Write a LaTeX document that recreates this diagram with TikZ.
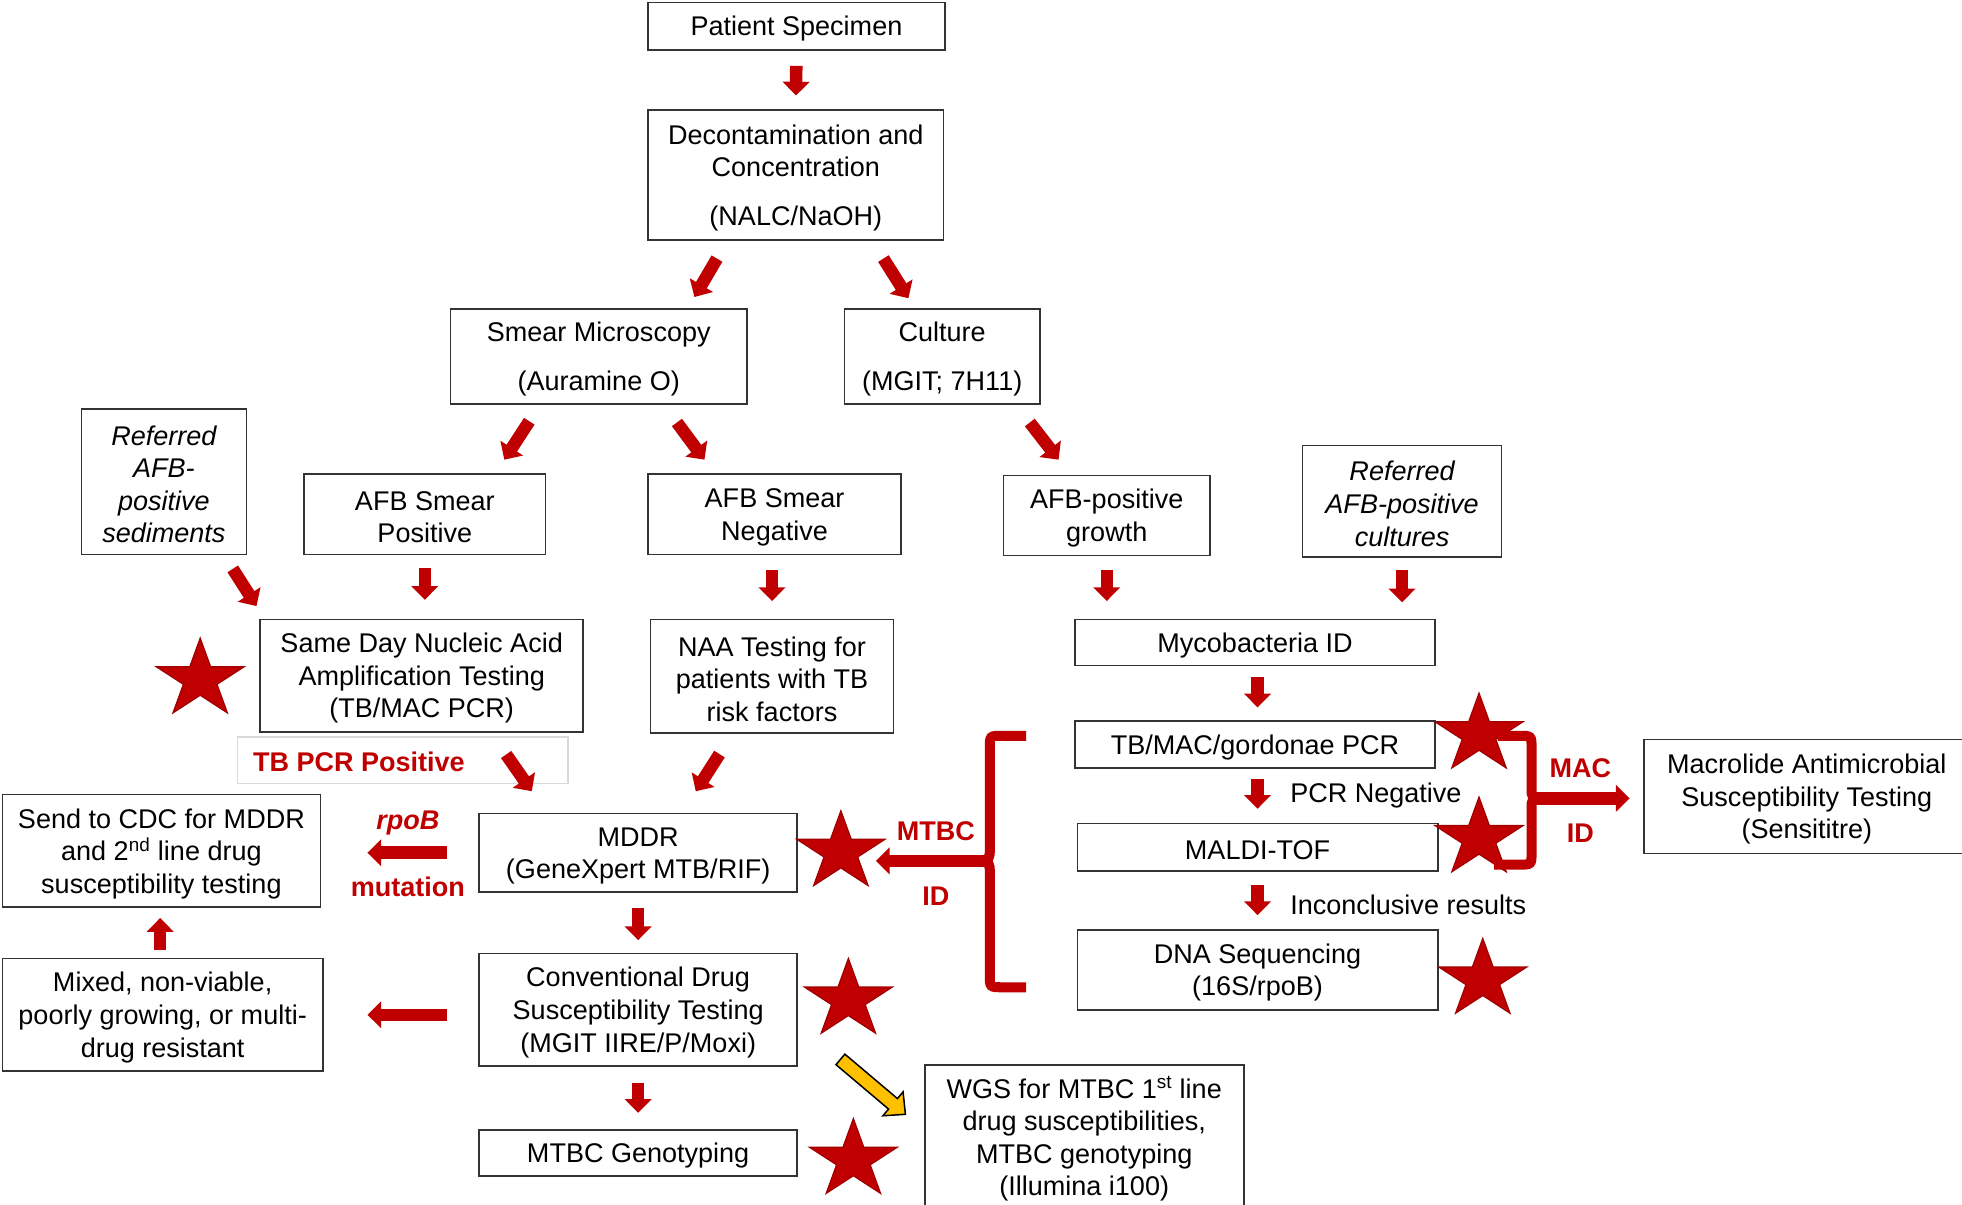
\documentclass[tikz,border=0pt]{standalone}
\usepackage{fontspec}
\setmainfont{Liberation Sans}
\usetikzlibrary{arrows.meta,calc}
\definecolor{ared}{HTML}{C00000}
\definecolor{sred}{HTML}{A00000}
\definecolor{ayel}{HTML}{FFC000}
\newcommand{\boxstrut}{\rule{0pt}{20pt}}
\begin{document}
\begin{tikzpicture}[x=1pt,y=-1pt,
  font=\fontsize{21.6pt}{26pt}\selectfont,
  box/.style={draw=black!80, line width=1.3pt, inner sep=0pt, align=center, fill=white, execute at begin node={\boxstrut}},
  itbox/.style={box, font=\fontsize{21.6pt}{26pt}\selectfont\itshape},
  rarr/.style={draw=ared, line width=10pt, -{Triangle[width=21pt,length=11pt]}},
  lbl/.style={text=ared, font=\fontsize{21.6pt}{26pt}\selectfont\bfseries, inner sep=0pt},
  plain/.style={inner sep=0pt},
  starfill/.style={fill=ared, draw=sred, line width=1pt, line join=miter},
  brc/.style={draw=ared, line width=8pt, line cap=butt},
  starpic/.pic={\path[starfill, xscale=1.12] (90:33pt) -- (126:12.6pt) -- (162:33pt) -- (198:12.6pt) -- (234:33pt) -- (270:12.6pt) -- (306:33pt) -- (342:12.6pt) -- (18:33pt) -- (54:12.6pt) -- cycle;}
]
\useasboundingbox[fill=white] (0,0) rectangle (1568,963);

% boxes
\node[box, minimum width=237pt, minimum height=38pt] (ps) at (636.5,21) {Patient Specimen};
\node[box, minimum width=236pt, minimum height=104pt] (dc) at (636,140) {\boxstrut Decontamination and\\Concentration\\[13pt](NALC/NaOH)};
\node[box, minimum width=237pt, minimum height=76pt] (sm) at (478.5,285) {\boxstrut Smear Microscopy\\[13pt](Auramine O)};
\node[box, minimum width=156pt, minimum height=76pt] (cu) at (753,285) {\boxstrut Culture\\[13pt](MGIT; 7H11)};
\node[itbox, minimum width=132pt, minimum height=116pt] (rs) at (131,385) {\boxstrut Referred\\AFB-\\positive\\sediments};
\node[box, minimum width=193pt, minimum height=64pt] (ap) at (339.5,411) {\boxstrut AFB Smear\\Positive};
\node[box, minimum width=202pt, minimum height=64pt] (an) at (619,411) {\boxstrut AFB Smear\\Negative};
\node[box, minimum width=165pt, minimum height=64pt] (ag) at (884.5,412) {\boxstrut AFB-positive\\growth};
\node[itbox, minimum width=159pt, minimum height=89pt] (rc) at (1120.5,400.5) {\boxstrut Referred\\AFB-positive\\cultures};
\node[box, minimum width=258pt, minimum height=90pt] (sd) at (337,540) {\boxstrut Same Day Nucleic Acid\\Amplification Testing\\(TB/MAC PCR)};
\node[box, minimum width=194pt, minimum height=91pt] (na) at (617,540.5) {\boxstrut NAA Testing for\\patients with TB\\risk factors};
\node[box, minimum width=288pt, minimum height=37pt] (my) at (1003,513.5) {Mycobacteria ID};
\node[draw=black!15, line width=1pt, minimum width=264pt, minimum height=37pt, inner sep=0pt] (tbbox) at (322,607.5) {};
\node[lbl, anchor=west] (tbl) at (202,609) {TB PCR Positive};
\node[box, minimum width=254pt, minimum height=90pt] (cdc) at (129,680) {\boxstrut Send to CDC for MDDR\\and 2\textsuperscript{nd} line drug\\susceptibility testing};
\node[box, minimum width=254pt, minimum height=63pt] (mddr) at (510,681.5) {\boxstrut MDDR\\(GeneXpert MTB/RIF)};
\node[box, minimum width=256pt, minimum height=90pt] (mix) at (130,811) {\boxstrut Mixed, non-viable,\\poorly growing, or multi-\\drug resistant};
\node[box, minimum width=254pt, minimum height=90pt] (cdst) at (510,807) {\boxstrut Conventional Drug\\Susceptibility Testing\\(MGIT IIRE/P/Moxi)};
\node[box, minimum width=254pt, minimum height=37pt] (gen) at (510,921.5) {MTBC Genotyping};
\node[box, minimum width=255pt, minimum height=116pt] (wgs) at (866.5,909) {\boxstrut WGS for MTBC 1\textsuperscript{st} line\\drug susceptibilities,\\MTBC genotyping\\(Illumina i100)};
\node[box, minimum width=288pt, minimum height=38pt] (tbmac) at (1003,595) {TB/MAC/gordonae PCR};
\node[box, minimum width=288pt, minimum height=38pt] (maldi) at (1005,677) {MALDI-TOF};
\node[box, minimum width=288pt, minimum height=64pt] (dna) at (1005,775) {\boxstrut DNA Sequencing\\(16S/rpoB)};
\node[box, minimum width=260pt, minimum height=91pt] (mac) at (1444,636.5) {\boxstrut Macrolide Antimicrobial\\Susceptibility Testing\\(Sensititre)};

% labels
\node[plain, anchor=west] (pcrneg) at (1031,636) {PCR Negative};
\node[plain, anchor=west] (incl) at (1031,723) {Inconclusive results};
\node[lbl, font=\fontsize{21.6pt}{26pt}\selectfont\bfseries\itshape] (rpob) at (326,658) {rpoB};
\node[lbl] (mut) at (326,709) {mutation};
\node[lbl] (mtbc) at (748,664) {MTBC};
\node[lbl] (id1) at (748,716) {ID};
\node[lbl] (maclbl) at (1263,614) {MAC};
\node[lbl] (id2) at (1263,666) {ID};

% stars
\pic at (160,543) {starpic};
\pic at (672,681) {starpic};
\pic at (678,799) {starpic};
\pic at (682,927) {starpic};
\pic at (1182,587) {starpic};
\pic at (1182,670) {starpic};
\pic at (1185,783) {starpic};

% red arrows
\draw[rarr, shorten <=12pt, shorten >=11pt] (ps.south) -- (dc.north);
\draw[rarr] ([xshift=-63pt,yshift=-14pt]dc.south) -- ([xshift=76.5pt,yshift=9pt]sm.north);
\draw[rarr] ([xshift=70pt,yshift=-14pt]dc.south) -- ([xshift=-27pt,yshift=8pt]cu.north);
\draw[rarr] ([xshift=-55.5pt,yshift=-13pt]sm.south) -- ([xshift=63.5pt,yshift=11pt]ap.north);
\draw[rarr] ([xshift=62.5pt,yshift=-14pt]sm.south) -- ([xshift=-56pt,yshift=11pt]an.north);
\draw[rarr] ([xshift=70pt,yshift=-14pt]cu.south) -- ([xshift=-38.5pt,yshift=12pt]ag.north);
\draw[rarr] ([xshift=55pt,yshift=-11pt]rs.south) -- ([xshift=-132pt,yshift=10pt]sd.north);
\draw[rarr, shorten <=10pt, shorten >=15pt] (ap.south) -- (ap.south |- sd.north);
\draw[rarr, shorten <=12pt, shorten >=14pt] ([xshift=-2pt]an.south) -- ([xshift=-2pt]an.south |- na.north);
\draw[rarr, shorten <=11pt, shorten >=14pt] (ag.south) -- (ag.south |- my.north);
\draw[rarr, shorten <=10pt, shorten >=13pt] (rc.south) -- (rc.south |- my.north);
\draw[rarr, shorten <=8pt, shorten >=10pt] ([xshift=2pt]my.south) -- ([xshift=2pt]my.south |- tbmac.north);
\draw[rarr, shorten <=8pt, shorten >=11pt] ([xshift=2pt]tbmac.south) -- ([xshift=2pt]tbmac.south |- maldi.north);
\draw[rarr, shorten <=11pt, shorten >=11pt] (maldi.south) -- (maldi.south |- dna.north);
\draw[rarr] ([xshift=-50pt,yshift=4.5pt]tbbox.east) -- ([xshift=-85pt,yshift=17pt]mddr.north);
\draw[rarr] ([xshift=-42pt,yshift=-16pt]na.south) -- ([xshift=46pt,yshift=17pt]mddr.north);
\draw[rarr, shorten <=12pt, shorten >=10pt] (mddr.south) -- (mddr.south |- cdst.north);
\draw[rarr, shorten <=13pt, shorten >=13pt] (cdst.south) -- (cdst.south |- gen.north);
\draw[rarr, shorten <=6pt, shorten >=8pt] ([xshift=-2pt]mix.north) -- ([xshift=-2pt]mix.north |- cdc.south);
\draw[rarr, shorten <=25pt, shorten >=37pt] (mddr.west) -- (mddr.west -| cdc.east);
\draw[rarr, shorten <=25pt, shorten >=35pt] (cdst.west |- mix.east) -- (mix.east);

% MTBC brace
\draw[brc] (820,588) -- (801,588) .. controls (791,588) .. (791,598) -- (791,679) .. controls (791,686) .. (784,688) .. controls (791,690) .. (791,697) -- (791,779) .. controls (791,789) .. (801,789) -- (820,789);
\coordinate (bc1) at (790,688);
\coordinate (bc1end) at (700,688);
\draw[rarr] (bc1) -- (bc1end);

% MAC brace
\draw[brc] (1197,588) -- (1214,588) .. controls (1224,588) .. (1224,598) -- (1224,631) .. controls (1224,636) .. (1229,638) .. controls (1224,640) .. (1224,645) -- (1224,681) .. controls (1224,691) .. (1214,691) -- (1194,691);
\coordinate (bc2) at (1222,638);
\draw[rarr] (bc2) -- ([xshift=-11pt]mac.west |- bc2);

% yellow arrow
\coordinate (ya) at ([xshift=34pt,yshift=6pt]cdst.south east);
\begin{scope}[shift={(ya)}, rotate=-40.2]
\path[fill=ayel, draw=black, line width=1.2pt, line join=miter] (0,-5.5) -- (55,-5.5) -- (55,-12.5) -- (68,0) -- (55,12.5) -- (55,5.5) -- (0,5.5) -- cycle;
\end{scope}
\end{tikzpicture}
\end{document}
